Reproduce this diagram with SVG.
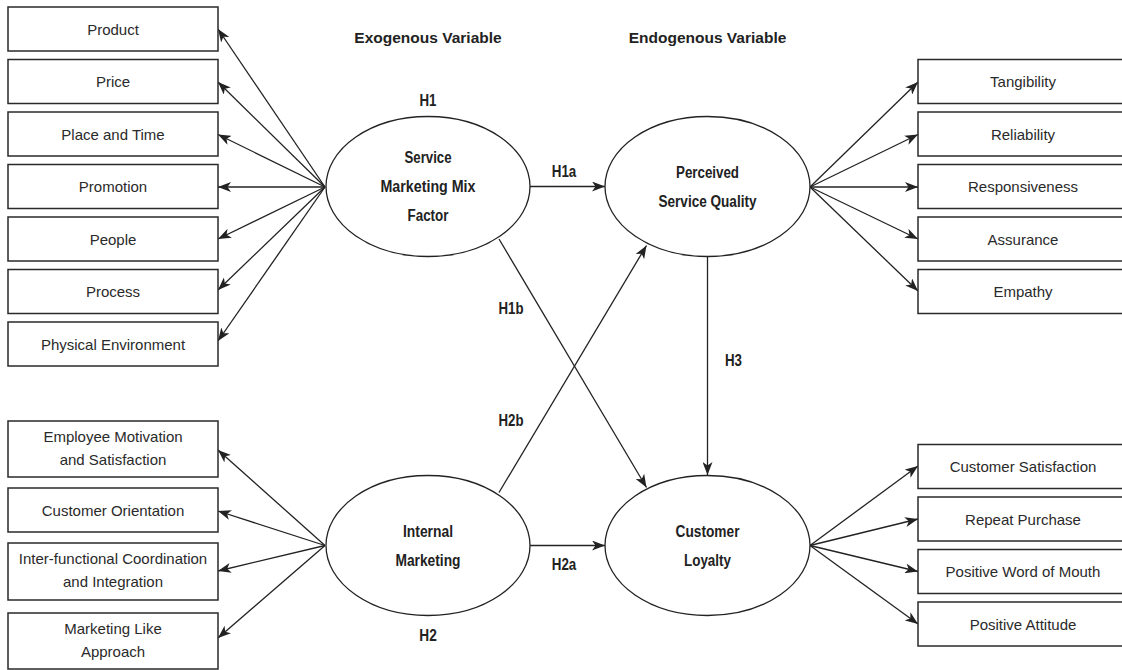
<svg xmlns="http://www.w3.org/2000/svg" width="1122" height="670" viewBox="0 0 1122 670">
<style>
.bx{fill:#fff;stroke:#2a2a2a;stroke-width:1.5}
.el{fill:#fff;stroke:#222;stroke-width:1.3}
.t{font-family:"Liberation Sans",Arial,sans-serif;font-size:15px;fill:#2a2a2a;text-anchor:middle}
.b{font-family:"Liberation Sans",Arial,sans-serif;font-size:16px;font-weight:bold;fill:#222;text-anchor:middle}
.h{font-family:"Liberation Sans",Arial,sans-serif;font-size:15.5px;font-weight:bold;fill:#222;text-anchor:middle}
.c{fill:none;stroke:#222;stroke-width:1.3;marker-end:url(#ah)}
</style>
<defs>
<marker id="ah" markerUnits="userSpaceOnUse" viewBox="0 0 13 10" markerWidth="13" markerHeight="10" refX="13" refY="5" orient="auto">
<path d="M0,0 L13,5 L0,10 L3.5,5 z" fill="#222"/>
</marker>
</defs>
<rect width="1122" height="670" fill="#fff"/>

<text class="h" x="428" y="43">Exogenous Variable</text>
<text class="h" x="707.5" y="43">Endogenous Variable</text>

<g id="connectors">
<line class="c" x1="325" y1="187" x2="218" y2="29"/>
<line class="c" x1="325" y1="187" x2="218" y2="82"/>
<line class="c" x1="325" y1="187" x2="218" y2="134.5"/>
<line class="c" x1="325" y1="187" x2="218" y2="187"/>
<line class="c" x1="325" y1="187" x2="218" y2="239"/>
<line class="c" x1="325" y1="187" x2="218" y2="290"/>
<line class="c" x1="325" y1="187" x2="218" y2="341"/>
<line class="c" x1="325" y1="545.5" x2="218" y2="450"/>
<line class="c" x1="325" y1="545.5" x2="218" y2="511"/>
<line class="c" x1="325" y1="545.5" x2="218" y2="571"/>
<line class="c" x1="325" y1="545.5" x2="218" y2="638"/>
<line class="c" x1="810" y1="187" x2="918" y2="82"/>
<line class="c" x1="810" y1="187" x2="918" y2="134.5"/>
<line class="c" x1="810" y1="187" x2="918" y2="187"/>
<line class="c" x1="810" y1="187" x2="918" y2="239"/>
<line class="c" x1="810" y1="187" x2="918" y2="291"/>
<line class="c" x1="810" y1="545.5" x2="918" y2="466"/>
<line class="c" x1="810" y1="545.5" x2="918" y2="519"/>
<line class="c" x1="810" y1="545.5" x2="918" y2="571.5"/>
<line class="c" x1="810" y1="545.5" x2="918" y2="624"/>
<line class="c" x1="530" y1="186.5" x2="605" y2="186.5"/>
<line class="c" x1="530" y1="545.5" x2="605" y2="545.5"/>
<line class="c" x1="707.5" y1="257" x2="707.5" y2="475"/>
<line class="c" x1="499" y1="239" x2="646.5" y2="487.5"/>
<line class="c" x1="499" y1="492.5" x2="646.5" y2="245.5"/>
</g>

<g id="n-product"><rect class="bx" x="8" y="7" width="210" height="44"/><text class="t" x="113" y="34.5">Product</text></g>
<g id="n-price"><rect class="bx" x="8" y="59.5" width="210" height="44"/><text class="t" x="113" y="87">Price</text></g>
<g id="n-place"><rect class="bx" x="8" y="112" width="210" height="44"/><text class="t" x="113" y="139.5">Place and Time</text></g>
<g id="n-promotion"><rect class="bx" x="8" y="164.5" width="210" height="44"/><text class="t" x="113" y="192">Promotion</text></g>
<g id="n-people"><rect class="bx" x="8" y="217" width="210" height="44"/><text class="t" x="113" y="244.5">People</text></g>
<g id="n-process"><rect class="bx" x="8" y="269.5" width="210" height="44"/><text class="t" x="113" y="297">Process</text></g>
<g id="n-physical"><rect class="bx" x="8" y="322" width="210" height="44"/><text class="t" x="113" y="349.5">Physical Environment</text></g>

<g id="n-employee"><rect class="bx" x="8" y="421" width="210" height="56"/><text class="t" x="113" y="442">Employee Motivation</text><text class="t" x="113" y="465">and Satisfaction</text></g>
<g id="n-custorient"><rect class="bx" x="8" y="488" width="210" height="44"/><text class="t" x="113" y="515.5">Customer Orientation</text></g>
<g id="n-interfunc"><rect class="bx" x="8" y="543" width="210" height="57"/><text class="t" x="113" y="563.5">Inter-functional Coordination</text><text class="t" x="113" y="587">and Integration</text></g>
<g id="n-marketinglike"><rect class="bx" x="8" y="613" width="210" height="56"/><text class="t" x="113" y="634">Marketing Like</text><text class="t" x="113" y="657">Approach</text></g>

<g id="n-tangibility"><rect class="bx" x="918" y="59.5" width="212" height="44"/><text class="t" x="1023" y="87">Tangibility</text></g>
<g id="n-reliability"><rect class="bx" x="918" y="112" width="212" height="44"/><text class="t" x="1023" y="139.5">Reliability</text></g>
<g id="n-responsiveness"><rect class="bx" x="918" y="164.5" width="212" height="44"/><text class="t" x="1023" y="192">Responsiveness</text></g>
<g id="n-assurance"><rect class="bx" x="918" y="217" width="212" height="44"/><text class="t" x="1023" y="244.5">Assurance</text></g>
<g id="n-empathy"><rect class="bx" x="918" y="269.5" width="212" height="44"/><text class="t" x="1023" y="297">Empathy</text></g>

<g id="n-custsat"><rect class="bx" x="918" y="444.5" width="212" height="44"/><text class="t" x="1023" y="472">Customer Satisfaction</text></g>
<g id="n-repeat"><rect class="bx" x="918" y="497" width="212" height="44"/><text class="t" x="1023" y="524.5">Repeat Purchase</text></g>
<g id="n-wom"><rect class="bx" x="918" y="549.5" width="212" height="44"/><text class="t" x="1023" y="577">Positive Word of Mouth</text></g>
<g id="n-attitude"><rect class="bx" x="918" y="602" width="212" height="44"/><text class="t" x="1023" y="629.5">Positive Attitude</text></g>

<g id="n-smm"><ellipse class="el" cx="428" cy="186.5" rx="102" ry="70"/><text class="b" x="428" y="163" textLength="47" lengthAdjust="spacingAndGlyphs">Service</text><text class="b" x="428" y="192" textLength="95" lengthAdjust="spacingAndGlyphs">Marketing Mix</text><text class="b" x="428" y="221" textLength="41" lengthAdjust="spacingAndGlyphs">Factor</text></g>
<g id="n-psq"><ellipse class="el" cx="707.5" cy="186.5" rx="102.5" ry="70"/><text class="b" x="707.5" y="177.5" textLength="63" lengthAdjust="spacingAndGlyphs">Perceived</text><text class="b" x="707.5" y="206.5" textLength="98" lengthAdjust="spacingAndGlyphs">Service Quality</text></g>
<g id="n-im"><ellipse class="el" cx="428" cy="545.5" rx="102" ry="70"/><text class="b" x="428" y="537" textLength="50" lengthAdjust="spacingAndGlyphs">Internal</text><text class="b" x="428" y="566" textLength="65" lengthAdjust="spacingAndGlyphs">Marketing</text></g>
<g id="n-cl"><ellipse class="el" cx="707.5" cy="545.5" rx="102.5" ry="70"/><text class="b" x="707.5" y="537" textLength="64" lengthAdjust="spacingAndGlyphs">Customer</text><text class="b" x="707.5" y="566" textLength="47" lengthAdjust="spacingAndGlyphs">Loyalty</text></g>

<g id="labels">
<text class="b" x="428" y="106" textLength="17" lengthAdjust="spacingAndGlyphs">H1</text>
<text class="b" x="564" y="177" textLength="24.5" lengthAdjust="spacingAndGlyphs">H1a</text>
<text class="b" x="511" y="314" textLength="25" lengthAdjust="spacingAndGlyphs">H1b</text>
<text class="b" x="733.5" y="366" textLength="17" lengthAdjust="spacingAndGlyphs">H3</text>
<text class="b" x="511" y="426" textLength="25" lengthAdjust="spacingAndGlyphs">H2b</text>
<text class="b" x="564" y="570" textLength="24.5" lengthAdjust="spacingAndGlyphs">H2a</text>
<text class="b" x="428" y="641" textLength="17.5" lengthAdjust="spacingAndGlyphs">H2</text>
</g>
</svg>
